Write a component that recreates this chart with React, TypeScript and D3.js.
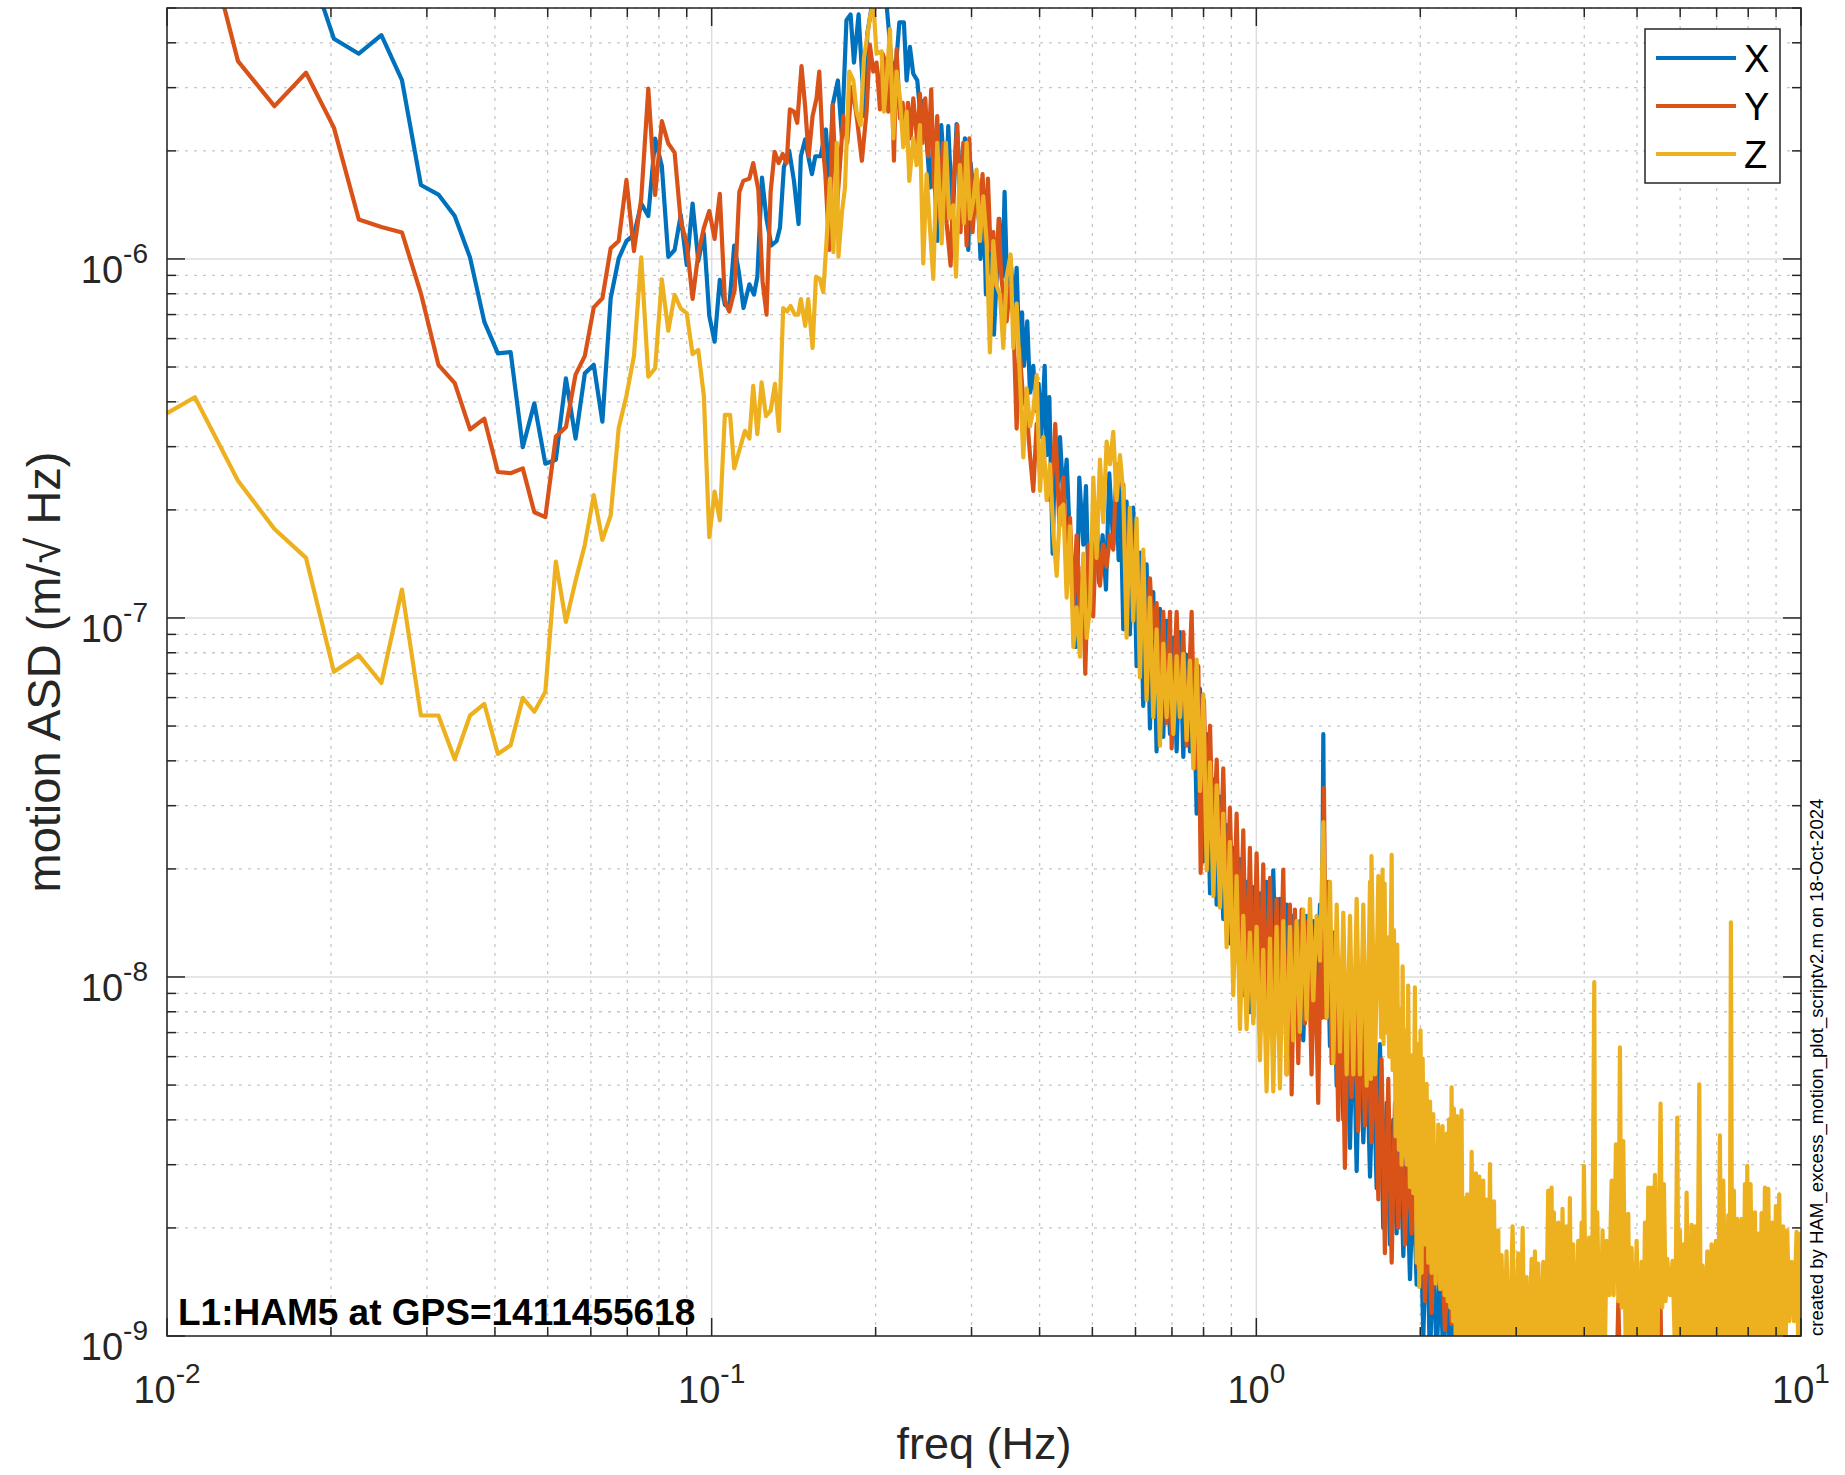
import React from 'react';
import * as d3 from 'd3';

// ---------------- layout ----------------
const W = 1845;
const H = 1475;
const PLOT = { left: 167, right: 1801, top: 8, bottom: 1336 };
const FONT = "'Liberation Sans', Arial, Helvetica, sans-serif";

// ---------------- axes ----------------
const X_DOMAIN: [number, number] = [0.01, 10];
const Y_DOMAIN: [number, number] = [1e-9, 5e-6];
const xTickExps = [-2, -1, 0, 1];
const yTickExps = [-9, -8, -7, -6];
const NM = 1e-9; // values below are in nm/sqrt(Hz)

// ---------------- data ----------------
// sparse low-frequency FFT bins (Hz)
const binFreqHz = [0.009, 0.01125, 0.0135, 0.01575, 0.018, 0.02025, 0.0225, 0.02475, 0.027, 0.02925, 0.0315, 0.03375, 0.036, 0.03825, 0.0405, 0.04275, 0.045, 0.04725, 0.0495, 0.05175, 0.054, 0.05625, 0.0585, 0.06075, 0.063, 0.06525, 0.0675, 0.06975, 0.072, 0.07425, 0.0765, 0.07875, 0.081, 0.08325, 0.0855, 0.08775, 0.09, 0.09225, 0.0945, 0.09675, 0.099, 0.10125, 0.1035, 0.10575];

const xLowNm = [14000, 12000, 10000, 8500, 7000, 4105, 3730, 4200, 3148, 1607, 1511, 1317, 1010, 668, 546, 550, 299, 396, 269, 276, 465, 316, 480, 507, 352, 777, 1003, 1122, 1166, 1427, 1317, 2163, 1815, 1013, 1059, 1325, 962, 1427, 987, 1177, 694, 588, 874, 745];
const yLowNm = [20000, 10500, 3556, 2665, 3302, 2322, 1288, 1228, 1185, 802, 507, 451, 335, 359, 255, 253, 261, 197, 191, 320, 340, 476, 537, 733, 777, 1070, 1122, 1660, 1052, 1473, 2980, 1507, 2420, 2096, 1978, 1275, 1102, 774, 1033, 1220, 1361, 1137, 1518, 764];
const zLowNm = [339, 412, 241, 177, 147, 70.8, 78.7, 65.9, 120, 53.5, 53.5, 40.4, 53.5, 57.6, 41.8, 44.2, 59.9, 54.8, 62.3, 143.6, 97.5, 127, 160, 220, 165, 193, 338, 416, 537, 1010, 470, 496, 877, 631, 794, 728, 705, 543, 558, 416, 168, 225, 187, 368];

// dense part 0.1 - 0.56 Hz : [freq Hz, ASD nm/rtHz]
const xMid: [number, number][] = [[0.1077,734],[0.1100,1090],[0.1122,918],[0.1144,730],[0.1173,850],[0.1196,796],[0.1213,892],[0.1237,1684],[0.1261,1294],[0.1287,1090],[0.1316,1122],[0.1335,1223],[0.1357,1798],[0.1388,2000],[0.1416,1651],[0.1444,1251],[0.1458,1932],[0.1485,2154],[0.1510,1877],[0.1528,1723],[0.1550,1932],[0.1585,1932],[0.1621,2294],[0.1644,1604],[0.1668,2685],[0.1705,3142],[0.1734,2198],[0.1768,4624],[0.1799,4800],[0.1825,3523],[0.1861,4800],[0.1883,3523],[0.1909,2499],[0.1931,4243],[0.1969,5100],[0.2008,5100],[0.2051,5250],[0.2095,5100],[0.2119,4183],[0.2149,3233],[0.2185,3625],[0.2211,4557],[0.2254,4557],[0.2280,3142],[0.2312,3895],[0.2345,3280],[0.2385,3142],[0.2418,2499],[0.2453,2762],[0.2516,1581],[0.2552,2105],[0.2595,1122],[0.2640,2360],[0.2692,1493],[0.2719,2346],[0.2769,1258],[0.2816,2375],[0.2876,1493],[0.2917,2167],[0.2959,1059],[0.2988,1850],[0.3030,1493],[0.3073,1674],[0.3116,1000],[0.3161,1371],[0.3188,796],[0.3224,1059],[0.3270,892],[0.3298,615],[0.3345,972],[0.3373,1294],[0.3421,892],[0.3450,1537],[0.3489,796],[0.3539,1000],[0.3589,710],[0.3630,945],[0.3672,549],[0.3713,710],[0.3744,504],[0.3797,670],[0.3841,424],[0.3895,504],[0.3939,378],[0.3984,449],[0.4029,319],[0.4087,504],[0.4121,284],[0.4168,412],[0.4227,151],[0.4274,319],[0.4323,239],[0.4361,319],[0.4423,213],[0.4485,276],[0.4536,180],[0.4600,120],[0.4665,83],[0.4731,246],[0.4812,160],[0.4866,233],[0.4921,120],[0.4992,147],[0.5047,185],[0.5148,125],[0.5221,170],[0.5296,120],[0.5370,253],[0.5462,160],[0.5539,220],[0.5587,145],[0.5619,253]];

const yMid: [number, number][] = [[0.1077,714],[0.1102,819],[0.1124,1537],[0.1143,1650],[0.1173,1674],[0.1192,1850],[0.1218,1560],[0.1240,867],[0.1261,700],[0.1283,1537],[0.1305,1988],[0.1327,1850],[0.1350,1960],[0.1373,1850],[0.1392,2609],[0.1416,2572],[0.1436,2394],[0.1462,3444],[0.1485,2646],[0.1507,1932],[0.1532,2499],[0.1558,2802],[0.1576,3327],[0.1598,2105],[0.1617,1723],[0.1644,1059],[0.1668,2685],[0.1697,1371],[0.1720,1825],[0.1745,2499],[0.1774,2105],[0.1807,3010],[0.1825,2802],[0.1850,2429],[0.1887,1877],[0.1925,2572],[0.1952,3950],[0.1980,3327],[0.2008,3523],[0.2037,2609],[0.2060,3730],[0.2083,3523],[0.2110,2572],[0.2137,3424],[0.2161,1877],[0.2185,3839],[0.2217,2464],[0.2242,2723],[0.2267,2105],[0.2293,2723],[0.2319,2167],[0.2345,2802],[0.2385,2105],[0.2412,2883],[0.2439,2105],[0.2467,2802],[0.2498,1932],[0.2530,2967],[0.2559,1581],[0.2595,2499],[0.2625,1294],[0.2662,2105],[0.2700,1258],[0.2746,958],[0.2777,1581],[0.2825,2360],[0.2864,1188],[0.2897,2105],[0.2938,1090],[0.2972,2167],[0.3013,1188],[0.3055,1581],[0.3099,1258],[0.3143,1723],[0.3179,1122],[0.3215,1674],[0.3251,1059],[0.3289,1188],[0.3326,843],[0.3364,1294],[0.3402,892],[0.3431,796],[0.3480,670],[0.3529,843],[0.3579,690],[0.3630,337],[0.3672,565],[0.3724,424],[0.3787,378],[0.3841,284],[0.3895,226],[0.3951,347],[0.4007,253],[0.4064,284],[0.4121,233],[0.4180,213],[0.4240,268],[0.4274,347],[0.4349,180],[0.4423,246],[0.4485,139],[0.4549,190],[0.4614,104],[0.4677,170],[0.4745,90.5],[0.4797,139],[0.4852,69.9],[0.4921,160],[0.5017,101],[0.5091,190],[0.5163,123],[0.5236,160],[0.5311,139],[0.5386,170],[0.5462,155],[0.5539,268],[0.5619,239]];

const zMid: [number, number][] = [[0.1081,368],[0.1100,261],[0.1127,297],[0.1151,332],[0.1173,316],[0.1192,443],[0.1213,325],[0.1235,453],[0.1258,365],[0.1283,378],[0.1307,449],[0.1329,332],[0.1353,730],[0.1376,714],[0.1396,740],[0.1421,700],[0.1442,700],[0.1458,773],[0.1485,651],[0.1504,773],[0.1532,565],[0.1554,892],[0.1580,880],[0.1603,808],[0.1626,1138],[0.1649,1674],[0.1673,1044],[0.1697,2105],[0.1709,1015],[0.1733,1332],[0.1757,1581],[0.1789,3327],[0.1820,3142],[0.1845,2572],[0.1877,2360],[0.1904,3625],[0.1925,4065],[0.1952,4690],[0.1980,5200],[0.2008,3730],[0.2051,3784],[0.2072,2572],[0.2095,3142],[0.2125,4367],[0.2155,2167],[0.2185,3327],[0.2217,2802],[0.2248,2046],[0.2280,2572],[0.2306,1650],[0.2345,2167],[0.2378,1825],[0.2412,2360],[0.2446,972],[0.2481,1723],[0.2516,1223],[0.2552,880],[0.2595,2105],[0.2644,1105],[0.2692,2105],[0.2730,1294],[0.2777,1410],[0.2809,892],[0.2856,1825],[0.2905,1258],[0.2938,2105],[0.2980,1294],[0.3022,1451],[0.3064,1773],[0.3108,1122],[0.3152,1493],[0.3197,1122],[0.3242,549],[0.3289,1122],[0.3335,843],[0.3383,796],[0.3431,565],[0.3480,892],[0.3539,1029],[0.3579,565],[0.3630,751],[0.3682,462],[0.3734,280],[0.3787,436],[0.3841,342],[0.3895,378],[0.3951,475],[0.4007,226],[0.4064,319],[0.4121,213],[0.4180,268],[0.4240,172],[0.4300,131],[0.4361,202],[0.4423,207],[0.4485,114],[0.4549,180],[0.4614,83],[0.4677,107],[0.4745,78],[0.4812,151],[0.4881,88],[0.4950,107],[0.5020,246],[0.5091,147],[0.5163,276],[0.5236,185],[0.5311,310],[0.5386,268],[0.5462,330],[0.5539,213],[0.5619,284]];

// dense part above 0.56 Hz : peaks and troughs
const xHigh: [number, number][] = [[0.5698,93],[0.5778,211],[0.5860,90],[0.5943,203],[0.6028,73.4],[0.6113,152],[0.6200,56.9],[0.6288,141],[0.6378,49.2],[0.6468,118],[0.6560,42.5],[0.6653,106],[0.6748,46.6],[0.6844,98.2],[0.6941,47.5],[0.7040,88.1],[0.7140,42.5],[0.7241,91.3],[0.7344,41],[0.7448,78.9],[0.7554,42.5],[0.7661,76.1],[0.7770,28.5],[0.7881,63.5],[0.7993,21],[0.8106,47.5],[0.8222,17.1],[0.8338,35.5],[0.8456,15.9],[0.8575,31.8],[0.8695,14.5],[0.8819,26.5],[0.8943,12.4],[0.9071,22.9],[0.9200,11.1],[0.9331,21.3],[0.9463,8.9],[0.9596,18.4],[0.9732,7.98],[0.9872,17.8],[1.0011,8.9],[1.0153,17.1],[1.0297,8.28],[1.0443,18.4],[1.0593,7.7],[1.0742,19.8],[1.0894,8.28],[1.1049,16.5],[1.1205,7.98],[1.1366,15.9],[1.1527,7.7],[1.1690,14.8],[1.1857,7.42],[1.2023,14.3],[1.2196,6.66],[1.2369,14.8],[1.2544,7.7],[1.2722,14.3],[1.2902,7.7],[1.3088,15.9],[1.318,9.24],[1.3274,47.5],[1.336,9.24],[1.3461,17.1],[1.3652,6.42],[1.3846,13.3],[1.4044,4.98],[1.4243,11.1],[1.4445,4.0],[1.4649,9.24],[1.4857,3.34],[1.5068,8.28],[1.5282,2.88],[1.5499,7.7],[1.5718,3.46],[1.5941,6.42],[1.6170,2.78],[1.6398,5.75],[1.6631,2.58],[1.6866,6.5],[1.7100,2.0],[1.7347,4.46],[1.7592,1.8],[1.7841,4.0],[1.8095,1.93],[1.8351,3.72],[1.8615,1.67],[1.8879,3.1],[1.9146,1.44],[1.9418,2.78],[1.9693,1.39],[1.9975,2.4],[2.0258,1.0],[2.0545,2.16],[2.0836,0.85],[2.1131,1.8],[2.1429,0.85],[2.1737,1.62],[2.2044,0.85],[2.2357,1.44],[2.2674,0.85],[2.2999,1.3],[2.3324,0.85],[2.3654,1.2],[2.3989,0.7],[2.4322,1.11],[2.502,0.6],[3.40,0.6],[3.43,1.08],[3.46,0.6],[4.02,0.6],[4.04,1.06],[4.07,0.6],[10.5,0.5]];

const yHigh: [number, number][] = [[0.5698,235],[0.5778,98.2],[0.5860,192],[0.5943,127],[0.6028,160],[0.6113,88.1],[0.6200,147],[0.6288,61.2],[0.6378,129],[0.6468,88.1],[0.6560,110],[0.6653,56.9],[0.6748,104],[0.6844,51],[0.6941,104],[0.6991,43.3],[0.7140,104],[0.7241,52.9],[0.7344,91.3],[0.7448,44.1],[0.7607,104],[0.7716,38.1],[0.7825,73.4],[0.7903,19.5],[0.8014,59],[0.8106,27.5],[0.8222,50.1],[0.8338,21.3],[0.8456,40.3],[0.8575,17.8],[0.8695,38.1],[0.8819,14.8],[0.8943,29.6],[0.9071,12.8],[0.9200,28.5],[0.9331,11.1],[0.9463,25.6],[0.9596,8.28],[0.9732,22.9],[0.9872,7.7],[1.0011,22.1],[1.0153,8.28],[1.0297,20.6],[1.0443,7.7],[1.0593,18.9],[1.0742,6.42],[1.0894,16.5],[1.1049,7.7],[1.1205,19.9],[1.1366,5.35],[1.1527,15.9],[1.161,4.71],[1.177,15.4],[1.194,5.75],[1.211,15.4],[1.228,7.42],[1.245,14.3],[1.263,5.35],[1.281,12.8],[1.299,4.46],[1.314,13.3],[1.321,7.7],[1.331,33.6],[1.341,7.7],[1.356,18.4],[1.375,5.75],[1.394,13.3],[1.414,4.0],[1.434,11.1],[1.454,2.94],[1.475,9.24],[1.496,4.63],[1.517,8.28],[1.538,3.72],[1.561,7.7],[1.583,3.86],[1.605,7.16],[1.627,3.46],[1.651,6.66],[1.675,2.4],[1.698,5.9],[1.722,1.7],[1.747,5.2],[1.772,1.6],[1.797,4.46],[1.822,2.0],[1.848,3.72],[1.875,1.8],[1.901,3.34],[1.928,1.93],[1.955,2.99],[1.983,1.55],[2.011,2.58],[2.040,1.25],[2.069,2.32],[2.098,1.16],[2.128,2.16],[2.158,1.39],[2.189,1.8],[2.220,1.04],[2.251,1.67],[2.283,1.08],[2.315,2.24],[2.349,0.85],[2.381,1.5],[2.415,0.85],[2.467,1.34],[2.502,0.7],[2.538,1.25],[2.573,0.7],[2.62,0.7],[2.66,1.28],[2.70,0.7],[3.18,0.7],[3.20,1.5],[3.22,0.7],[4.58,0.7],[4.62,1.25],[4.66,0.7],[5.49,0.7],[5.52,1.3],[5.55,0.7],[7.07,0.7],[7.10,1.12],[7.13,0.7],[10.5,0.6]];

const zHigh: [number, number][] = [[0.5698,223],[0.5778,88.1],[0.5860,203],[0.5943,98.2],[0.6028,189],[0.6113,68.3],[0.6200,155],[0.6288,59],[0.6378,114],[0.6468,52.9],[0.6560,92.9],[0.6653,44.1],[0.6748,84.9],[0.6844,52.9],[0.6941,78.9],[0.7040,47.5],[0.7140,78.3],[0.7241,52.9],[0.7344,79.5],[0.7448,45.7],[0.7554,76.1],[0.7661,38.1],[0.7770,76.6],[0.7881,33],[0.7993,61.2],[0.8106,19.8],[0.8222,39.6],[0.8338,16.8],[0.8456,34.2],[0.8575,15.6],[0.8695,28.5],[0.8819,12.1],[0.8943,23.8],[0.9071,8.9],[0.9200,19.1],[0.9331,7.16],[0.9463,14.8],[0.9596,7.16],[0.9732,13.3],[0.9872,7.42],[1.0011,13.8],[1.0153,5.86],[1.0297,11.9],[1.0443,4.8],[1.0593,12.8],[1.0742,4.8],[1.0894,13.8],[1.1049,4.89],[1.1205,14.3],[1.1366,5.35],[1.1527,13.8],[1.1690,6.66],[1.1857,14.3],[1.2023,7.03],[1.2196,15.4],[1.2369,7.62],[1.2544,16.5],[1.2722,8.6],[1.2902,14.8],[1.3088,11.1],[1.3274,27],[1.3461,7.7],[1.3652,18.4],[1.3846,5.75],[1.4044,15.9],[1.4243,6.19],[1.4445,15.1],[1.4649,5.35],[1.4857,14.8],[1.5068,5.35],[1.5282,16.5],[1.5499,5.35],[1.5718,15.9],[1.5941,4.98],[1.6170,18.4],[1.6230,5.2],[1.6270,21.7],[1.6510,5.35],[1.6750,19.1],
[1.695,6.8],[1.705,19.9],[1.712,6.5],[1.720,18.2],[1.729,7.0],[1.740,12.9],[1.754,6.0],[1.772,21.9],[1.779,5.5],[1.789,13.5],[1.802,3.6],[1.814,12.3],[1.827,3.3],[1.840,8.15],[1.848,3.0],[1.856,10.7],[1.869,3.2],[1.882,7.1],[1.890,3.0],[1.900,9.46],[1.914,2.6],[1.928,6.05],[1.942,2.5],[1.955,9.35],[1.969,1.6],[1.983,6.5],[1.991,1.37],[2.002,7.1],[2.011,1.5],[2.020,5.92],[2.037,1.8],[2.054,5.04],[2.069,1.6],[2.084,4.5],[2.098,1.5],[2.113,4.15],[2.134,1.4],[2.158,3.88],[2.176,1.35],[2.198,3.84],[2.216,1.3],[2.236,3.66],[2.245,1.25],[2.258,4.01],[2.270,1.2],[2.283,4.93],[2.296,1.1],[2.305,4.3],[2.322,1.0],[2.338,4.1],[2.358,0.8],[2.381,4.25],[2.399,0.8],[2.415,2.42],[2.426,0.8],[2.439,2.48],[2.460,0.8],[2.485,3.26],[2.506,0.8],[2.530,2.84],[2.549,0.8],[2.566,2.78],[2.588,0.8],[2.610,2.71],[2.629,0.8],[2.647,2.4],[2.666,0.8],[2.685,3.01],[2.707,0.8],[2.731,2.37],[2.754,0.8],[2.781,1.97],[2.801,0.8],[2.820,1.68],[2.848,0.8],[2.880,1.72],[2.917,0.8],[2.954,2.02],[2.988,0.8],[3.026,1.7],[3.051,0.8],[3.083,2.0],[3.108,0.8],[3.135,1.46],[3.166,0.8],[3.202,1.64],[3.224,0.8],[3.247,1.72],[3.270,0.8],[3.293,1.59],[3.326,0.8],[3.363,1.61],[3.396,0.8],[3.435,2.54],[3.459,0.8],[3.484,2.59],[3.498,0.8],[3.518,2.21],[3.548,0.8],[3.583,2.07],[3.614,0.8],[3.649,2.26],[3.681,0.8],[3.711,2.02],[3.738,0.8],[3.764,2.42],[3.791,0.8],[3.817,1.8],[3.861,0.8],[3.899,1.84],[3.927,0.8],[3.955,2.07],[3.972,0.8],[3.994,2.98],[4.040,0.8],[4.085,1.88],[4.126,0.8],[4.173,9.68],[4.196,0.8],[4.226,2.21],[4.274,0.8],[4.322,1.97],[4.359,0.8],[4.396,1.84],[4.446,1.3],[4.490,2.71],[4.529,1.3],[4.573,3.42],[4.620,1.25],[4.651,6.37],[4.685,1.2],[4.717,3.49],[4.771,0.8],[4.818,2.19],[4.853,0.8],[4.886,1.76],[4.934,0.8],[4.991,1.84],[5.047,0.8],[5.097,1.61],[5.133,0.8],[5.170,2.07],[5.206,0.8],[5.243,2.59],[5.280,0.8],[5.317,2.59],[5.355,0.8],[5.393,2.81],[5.455,1.0],[5.523,4.44],[5.563,1.2],[5.602,2.65],[5.642,1.25],[5.681,1.64],[5.746,1.3],[5.811,1.62],[5.870,0.9],[5.927,4.06],[5.962,0.8],[5.994,1.97],[6.037,0.8],[6.079,1.8],[6.122,0.8],[6.165,2.51],[6.227,0.8],[6.297,2.04],[6.341,0.8],[6.386,2.02],[6.441,0.8],[6.505,5.02],[6.551,0.8],[6.597,1.57],[6.664,0.8],[6.728,1.72],[6.785,0.8],[6.852,1.8],[6.911,0.8],[6.979,1.84],[7.039,0.8],[7.098,3.62],[7.148,0.8],[7.199,2.71],[7.281,0.8],[7.353,2.17],[7.395,0.8],[7.436,14.2],[7.478,0.8],[7.530,2.54],[7.584,0.8],[7.637,2.12],[7.702,0.8],[7.779,2.12],[7.833,0.8],[7.889,2.65],[7.922,0.8],[7.968,2.98],[8.024,0.8],[8.080,2.65],[8.150,0.8],[8.230,2.21],[8.288,0.8],[8.346,1.93],[8.405,0.8],[8.464,2.2],[8.523,0.8],[8.584,2.59],[8.646,0.8],[8.706,2.57],[8.794,0.8],[8.867,2.07],[8.930,0.8],[8.992,2.3],[9.057,0.8],[9.120,2.48],[9.198,0.8],[9.276,2.02],[9.356,0.8],[9.435,1.97],[9.515,1.1],[9.610,1.61],[9.706,1.1],[9.815,1.95],[9.897,0.8],[9.98,1.93],[10.07,0.9]];

const seriesNames = ['X', 'Y', 'Z'];
const seriesColors = ['#0072BD', '#D95319', '#EDB120'];

const annotation = 'L1:HAM5 at GPS=1411455618';
const sideNote = 'created by HAM_excess_motion_plot_scriptv2.m on 18-Oct-2024';
const xLabel = 'freq (Hz)';
const yLabel = 'motion ASD (m/\u221A Hz)';

function buildSeries(low: number[], mid: [number, number][], high: [number, number][]): [number, number][] {
  const pts: [number, number][] = binFreqHz.map((f, i) => [f, low[i]] as [number, number]);
  return pts.concat(mid, high);
}

export default function App() {
  const xs = d3.scaleLog().domain(X_DOMAIN).range([PLOT.left, PLOT.right]);
  const ys = d3.scaleLog().domain(Y_DOMAIN).range([PLOT.bottom, PLOT.top]);
  const line = d3
    .line<[number, number]>()
    .x((d) => xs(d[0]))
    .y((d) => ys(d[1] * NM));

  const allSeries = [
    buildSeries(xLowNm, xMid, xHigh),
    buildSeries(yLowNm, yMid, yHigh),
    buildSeries(zLowNm, zMid, zHigh),
  ];

  // ticks
  const xMajor = xTickExps.map((e) => Math.pow(10, e));
  const xMinor: number[] = [];
  for (let e = -2; e < 1; e++) for (let m = 2; m <= 9; m++) xMinor.push(m * Math.pow(10, e));
  const yMajor = yTickExps.map((e) => Math.pow(10, e));
  const yMinor: number[] = [];
  for (let e = -9; e <= -6; e++)
    for (let m = 2; m <= 9; m++) {
      const v = m * Math.pow(10, e);
      if (v <= Y_DOMAIN[1] * 1.0001) yMinor.push(v);
    }

  const axisColor = '#262626';
  const majorLen = 18;
  const minorLen = 9;
  const lw = 4.2;

  return (
    <svg
      width={W}
      height={H}
      viewBox={`0 0 ${W} ${H}`}
      style={{ position: 'absolute', left: 0, top: 0, display: 'block', background: '#ffffff' }}
      fontFamily={FONT}
    >
      <rect x={0} y={0} width={W} height={H} fill="#ffffff" />
      <defs>
        <clipPath id="plotClip">
          <rect x={PLOT.left} y={PLOT.top} width={PLOT.right - PLOT.left} height={PLOT.bottom - PLOT.top} />
        </clipPath>
      </defs>

      {/* minor grid */}
      <g stroke="#c6c6c6" strokeWidth={1.3} strokeDasharray="3 6">
        {xMinor.map((v, i) => (
          <line key={'gxm' + i} x1={xs(v)} x2={xs(v)} y1={PLOT.top} y2={PLOT.bottom} />
        ))}
        {yMinor.map((v, i) => (
          <line key={'gym' + i} y1={ys(v)} y2={ys(v)} x1={PLOT.left} x2={PLOT.right} />
        ))}
      </g>
      {/* major grid */}
      <g stroke="#dedede" strokeWidth={1.5}>
        {xMajor.map((v, i) => (
          <line key={'gxM' + i} x1={xs(v)} x2={xs(v)} y1={PLOT.top} y2={PLOT.bottom} />
        ))}
        {yMajor.map((v, i) => (
          <line key={'gyM' + i} y1={ys(v)} y2={ys(v)} x1={PLOT.left} x2={PLOT.right} />
        ))}
      </g>

      {/* data */}
      <g clipPath="url(#plotClip)" fill="none" strokeLinejoin="round" strokeLinecap="round">
        {allSeries.map((s, i) => (
          <path key={'s' + i} d={line(s) || ''} stroke={seriesColors[i]} strokeWidth={lw} />
        ))}
      </g>

      {/* ticks */}
      <g stroke={axisColor} strokeWidth={1.5}>
        {xMajor.map((v, i) => (
          <g key={'txM' + i}>
            <line x1={xs(v)} x2={xs(v)} y1={PLOT.bottom} y2={PLOT.bottom - majorLen} />
            <line x1={xs(v)} x2={xs(v)} y1={PLOT.top} y2={PLOT.top + majorLen} />
          </g>
        ))}
        {xMinor.map((v, i) => (
          <g key={'txm' + i}>
            <line x1={xs(v)} x2={xs(v)} y1={PLOT.bottom} y2={PLOT.bottom - minorLen} />
            <line x1={xs(v)} x2={xs(v)} y1={PLOT.top} y2={PLOT.top + minorLen} />
          </g>
        ))}
        {yMajor.map((v, i) => (
          <g key={'tyM' + i}>
            <line y1={ys(v)} y2={ys(v)} x1={PLOT.left} x2={PLOT.left + majorLen} />
            <line y1={ys(v)} y2={ys(v)} x1={PLOT.right} x2={PLOT.right - majorLen} />
          </g>
        ))}
        {yMinor.map((v, i) => (
          <g key={'tym' + i}>
            <line y1={ys(v)} y2={ys(v)} x1={PLOT.left} x2={PLOT.left + minorLen} />
            <line y1={ys(v)} y2={ys(v)} x1={PLOT.right} x2={PLOT.right - minorLen} />
          </g>
        ))}
      </g>

      {/* axes box */}
      <rect
        x={PLOT.left}
        y={PLOT.top}
        width={PLOT.right - PLOT.left}
        height={PLOT.bottom - PLOT.top}
        fill="none"
        stroke={axisColor}
        strokeWidth={1.5}
      />

      {/* x tick labels */}
      <g fill={axisColor} textAnchor="middle">
        {xTickExps.map((e, i) => (
          <text key={'xl' + i} x={xs(Math.pow(10, e))} y={1403}>
            <tspan fontSize={38}>10</tspan>
            <tspan fontSize={28} dy={-20}>{String(e)}</tspan>
          </text>
        ))}
      </g>
      {/* y tick labels */}
      <g fill={axisColor} textAnchor="end">
        {yTickExps.map((e, i) => (
          <text key={'yl' + i} x={148} y={ys(Math.pow(10, e)) + 24}>
            <tspan fontSize={38}>10</tspan>
            <tspan fontSize={28} dy={-20}>{String(e)}</tspan>
          </text>
        ))}
      </g>

      {/* axis labels */}
      <text x={(PLOT.left + PLOT.right) / 2} y={1459} textAnchor="middle" fontSize={45} fill={axisColor}>
        {xLabel}
      </text>
      <text
        transform={`translate(60, ${(PLOT.top + PLOT.bottom) / 2}) rotate(-90)`}
        textAnchor="middle"
        fontSize={47}
        fill={axisColor}
      >
        {yLabel}
      </text>

      {/* annotation */}
      <text x={178} y={1325} fontSize={37} fontWeight="bold" fill="#000">
        {annotation}
      </text>

      {/* side note */}
      <text transform={`translate(1823, ${PLOT.bottom}) rotate(-90)`} fontSize={18.6} fill="#000">
        {sideNote}
      </text>

      {/* legend */}
      <g>
        <rect x={1645} y={29} width={135} height={154} fill="#ffffff" stroke={axisColor} strokeWidth={1.5} />
        {seriesNames.map((n, i) => (
          <g key={'lg' + i}>
            <line x1={1656} x2={1736} y1={58 + i * 48} y2={58 + i * 48} stroke={seriesColors[i]} strokeWidth={lw} />
            <text x={1744} y={72 + i * 48} fontSize={38} fill="#000">
              {n}
            </text>
          </g>
        ))}
      </g>
    </svg>
  );
}
